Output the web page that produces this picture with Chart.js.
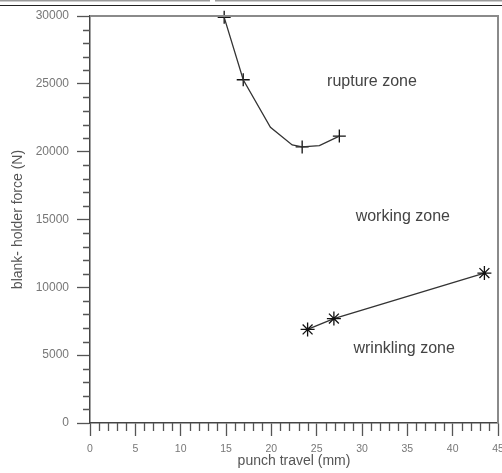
<!DOCTYPE html>
<html>
<head>
<meta charset="utf-8">
<script src="https://cdn.jsdelivr.net/npm/chart.js@4.4.0/dist/chart.umd.min.js"></script>
<style>
  html, body { margin: 0; padding: 0; background: #fff; }
  #wrap { position: relative; width: 502px; height: 473px; }
</style>
</head>
<body>
<div id="wrap"><canvas id="c" width="502" height="473"></canvas></div>
<script>
// ---- data ----
const ruptureCurveX = [14.8, 16.9, 19.9, 22.3, 23.4, 25.3, 27.5];
const ruptureCurveY = [29900, 25300, 21800, 20500, 20350, 20450, 21150];
const ruptureMarkX = [14.8, 16.9, 23.4, 27.5];
const ruptureMarkY = [29900, 25300, 20350, 21150];
const wrinklingX = [24.0, 26.9, 43.5];
const wrinklingY = [6900, 7700, 11050];
const zoneLabels = ['rupture zone', 'working zone', 'wrinkling zone'];
const zoneX = [31.1, 34.5, 34.65];
const zoneY = [25200, 15250, 5450];
const xTitle = 'punch travel (mm)';
const yTitle = 'blank- holder force (N)';

const pts = (xs, ys) => xs.map((x, i) => ({x, y: ys[i]}));

const FONT = '"Liberation Sans", Arial, sans-serif';
const noPad = () => ({left: 0, top: 0, right: 0, bottom: 0});

const decor = {
  id: 'decor',
  beforeDraw(chart) {
    const ctx = chart.ctx;
    ctx.save();
    ctx.strokeStyle = '#9a9a9a';
    ctx.lineWidth = 1.5;
    ctx.beginPath(); ctx.moveTo(0, 0.8); ctx.lineTo(210, 0.8); ctx.moveTo(215, 0.8); ctx.lineTo(502, 0.8); ctx.stroke();
    ctx.strokeStyle = '#222';
    ctx.lineWidth = 1.2;
    ctx.beginPath(); ctx.moveTo(0, 5.5); ctx.lineTo(502, 5.5); ctx.stroke();
    ctx.restore();
  },
  afterDraw(chart) {
    const ctx = chart.ctx;
    const xs = chart.scales.x, ys = chart.scales.y;
    const a = chart.chartArea;
    ctx.save();
    ctx.strokeStyle = '#8a8a8a';
    ctx.lineWidth = 2;
    ctx.beginPath();
    ctx.moveTo(a.left, a.top); ctx.lineTo(a.right, a.top); ctx.lineTo(a.right, a.bottom);
    ctx.stroke();
    ctx.strokeStyle = '#555';
    ctx.lineWidth = 1.3;
    ctx.beginPath();
    for (let v = 1; v < 45; v++) {
      if (v % 5 === 0) continue;
      const px = Math.round(xs.getPixelForValue(v)) + 0.5;
      ctx.moveTo(px, a.bottom); ctx.lineTo(px, a.bottom + 8);
    }
    for (let v = 1000; v < 30000; v += 1000) {
      if (v % 5000 === 0) continue;
      const py = Math.round(ys.getPixelForValue(v)) + 0.5;
      ctx.moveTo(a.left, py); ctx.lineTo(a.left - 7, py);
    }
    ctx.stroke();
    ctx.fillStyle = '#444';
    ctx.font = '16px ' + FONT;
    ctx.textAlign = 'center';
    ctx.textBaseline = 'middle';
    zoneLabels.forEach((t, i) => {
      ctx.fillText(t, xs.getPixelForValue(zoneX[i]), ys.getPixelForValue(zoneY[i]));
    });
    ctx.restore();
  }
};

new Chart(document.getElementById('c'), {
  type: 'scatter',
  data: {
    datasets: [
      { data: pts(ruptureCurveX, ruptureCurveY), showLine: true, borderColor: '#333', borderWidth: 1.3,
        pointRadius: 0, tension: 0, fill: false, clip: false },
      { data: pts(ruptureMarkX, ruptureMarkY), showLine: false, pointStyle: 'cross', pointRadius: 6.5,
        borderColor: '#111', borderWidth: 1.3, backgroundColor: '#111', clip: false },
      { data: pts(wrinklingX, wrinklingY), showLine: true, borderColor: '#333', borderWidth: 1.3,
        pointStyle: 'star', pointRadius: 7, pointBorderColor: '#111', pointBorderWidth: 1.3, tension: 0, clip: false }
    ]
  },
  options: {
    responsive: false,
    animation: false,
    events: [],
    layout: { autoPadding: false, padding: { top: 16, right: 4, left: 0, bottom: 0 } },
    plugins: { legend: { display: false }, tooltip: { enabled: false } },
    scales: {
      x: {
        type: 'linear', min: 0, max: 45,
        afterFit(s) { s.height = 50; s.paddingRight = 0; s.paddingLeft = 0; s.getPadding = noPad; },
        ticks: { stepSize: 5, color: '#777', font: { size: 10.5, family: FONT }, padding: 7, maxRotation: 0 },
        grid: { drawOnChartArea: false, tickLength: 13, tickColor: '#555', tickWidth: 1.3 },
        border: { color: '#444', width: 1.5 },
        title: { display: true, text: xTitle, color: '#555', font: { size: 14, family: FONT }, padding: { top: 3, bottom: 3 } }
      },
      y: {
        type: 'linear', min: 0, max: 30000,
        afterFit(s) { s.width = 90; s.paddingTop = 0; s.paddingBottom = 0; s.getPadding = noPad; },
        ticks: { stepSize: 5000, color: '#777', font: { size: 12, family: FONT }, padding: 8,
                 callback: v => String(v) },
        grid: { drawOnChartArea: false, tickLength: 13, tickColor: '#555', tickWidth: 1.3 },
        border: { color: '#444', width: 1.5 },
        title: { display: true, text: yTitle, color: '#555', font: { size: 14, family: FONT }, padding: { top: 10, bottom: 3 } }
      }
    }
  },
  plugins: [decor]
});
</script>
</body>
</html>
